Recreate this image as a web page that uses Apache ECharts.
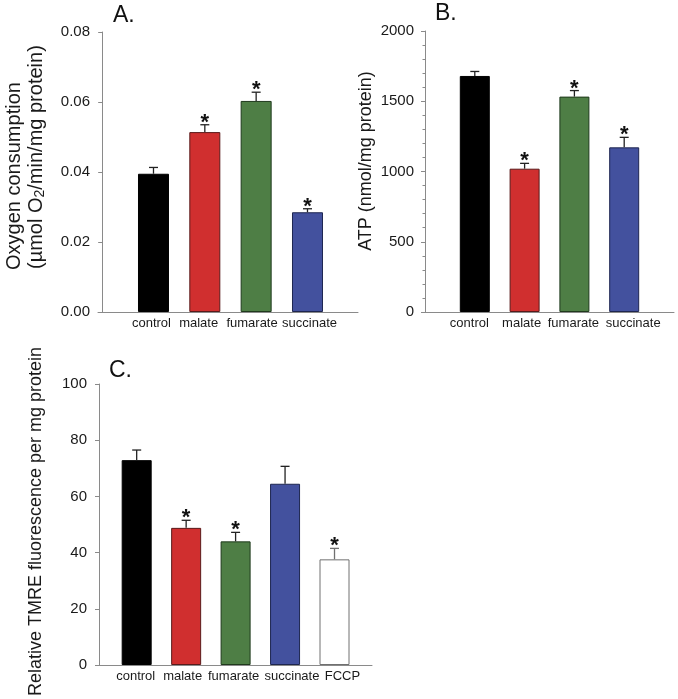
<!DOCTYPE html>
<html>
<head>
<meta charset="utf-8">
<script src="https://cdn.jsdelivr.net/npm/echarts@6/dist/echarts.min.js"></script>
<style>
html,body{margin:0;padding:0;background:#fff;}
#chart{width:678px;height:699px;}
</style>
</head>
<body>
<div id="chart"></div>
<script>
// ---- data ----
var categoriesAB = ['control', 'malate', 'fumarate', 'succinate'];
var categoriesC = ['control', 'malate', 'fumarate', 'succinate', 'FCCP'];

var oxygenMean = [0.0395, 0.0514, 0.0603, 0.0285];
var oxygenErr  = [0.0018, 0.0021, 0.0025, 0.0010];
var oxygenSig  = [0, 1, 1, 1];

var atpMean = [1680, 1020, 1533, 1172];
var atpErr  = [32, 38, 43, 71];
var atpSig  = [0, 1, 1, 1];

var tmreMean = [72.9, 48.8, 44.0, 64.5, 37.6];
var tmreErr  = [3.6, 2.7, 3.2, 6.2, 3.9];
var tmreSig  = [0, 1, 1, 0, 1];

var yTicksA = [0, 0.02, 0.04, 0.06, 0.08];
var yTicksB = [0, 500, 1000, 1500, 2000];
var yTicksC = [0, 20, 40, 60, 80, 100];

// ---- styles ----
var FONT = "'Liberation Sans', Arial, sans-serif";
var barFill = ['#000000', '#d02f2f', '#4e7e45', '#43519e', '#ffffff'];
var barEdge = ['#000000', '#5a1a1a', '#1f3a1c', '#1e2650', '#707070'];
var errColor = ['#222', '#222', '#222', '#222', '#707070'];
var axisGrey = '#8a8a8a';
var textCol = '#1a1a1a';
// small horizontal nudges of the category labels (in category units)
var nudgeA = [-0.04, -0.12, -0.08, 0.04];
var nudgeB = [-0.11, -0.06, -0.02, 0.18];
var nudgeC = [-0.02, -0.07, -0.04, 0.14, 0.16];

var chart = echarts.init(document.getElementById('chart'), null, {renderer: 'canvas'});

function barData(means) {
  return means.map(function (v, i) {
    return {value: [i + 1, v], itemStyle: {color: barFill[i], borderColor: barEdge[i], borderWidth: 1}};
  });
}
function errData(means, errs, sig) {
  return means.map(function (v, i) { return [i + 1, v, errs[i], sig[i], i]; });
}
function errRender(capHalf) {
  return function (params, api) {
    var x = api.value(0), v = api.value(1), e = api.value(2), s = api.value(3), idx = api.value(4);
    var base = api.coord([x, v]);
    var top = api.coord([x, v + e]);
    var col = errColor[idx];
    var children = [
      {type: 'line', shape: {x1: base[0], y1: base[1], x2: top[0], y2: top[1]}, style: {stroke: col, lineWidth: 1.3}},
      {type: 'line', shape: {x1: top[0] - capHalf, y1: top[1], x2: top[0] + capHalf, y2: top[1]}, style: {stroke: col, lineWidth: 1.3}}
    ];
    if (s) {
      children.push({type: 'text', style: {text: '*', x: top[0], y: top[1] - 2, align: 'center', verticalAlign: 'middle',
        font: 'bold 22px ' + FONT, fill: '#111'}});
    }
    return {type: 'group', children: children};
  };
}
function xAxisCfg(grid, min, max, cats, nudge) {
  return {
    type: 'value', gridIndex: grid, min: min, max: max,
    axisLine: {show: true, lineStyle: {color: axisGrey, width: 1}},
    axisTick: {show: false},
    splitLine: {show: false},
    axisLabel: {
      customValues: cats.map(function (c, i) { return i + 1 + nudge[i]; }),
      formatter: function (v) { return cats[Math.round(v) - 1] || ''; },
      showMinLabel: true, showMaxLabel: true, hideOverlap: false,
      fontSize: 13, color: textCol, fontFamily: FONT, margin: 5
    }
  };
}
function yAxisCfg(grid, ticks, name, gap, margin, fmt, minor, extra) {
  return {
    type: 'value', gridIndex: grid, min: ticks[0], max: ticks[ticks.length - 1],
    interval: ticks[1] - ticks[0],
    axisLine: {show: true, lineStyle: {color: axisGrey, width: 1}},
    axisTick: {show: true, length: 4, lineStyle: {color: axisGrey}},
    minorTick: {show: minor, splitNumber: 5, length: 2.5, lineStyle: {color: axisGrey}},
    splitLine: {show: false},
    axisLabel: {fontSize: 15, color: textCol, fontFamily: FONT, margin: margin, formatter: fmt},
    name: name, nameLocation: 'middle', nameGap: gap,
    nameTextStyle: Object.assign({fontSize: 18, color: textCol, fontFamily: FONT, lineHeight: 21}, extra || {})
  };
}

var option = {
  animation: false,
  backgroundColor: '#ffffff',
  textStyle: {fontFamily: FONT},
  grid: [
    {left: 98, top: 32, width: 260, height: 280, containLabel: false, outerBoundsMode: 'none'},
    {left: 425, top: 31, width: 249, height: 281, containLabel: false, outerBoundsMode: 'none'},
    {left: 99, top: 384, width: 273, height: 281, containLabel: false, outerBoundsMode: 'none'}
  ],
  xAxis: [
    xAxisCfg(0, -0.081, 4.984, categoriesAB, nudgeA),
    xAxisCfg(1, 0, 5, categoriesAB, nudgeB),
    xAxisCfg(2, 0.238, 5.758, categoriesC, nudgeC)
  ],
  yAxis: [
    yAxisCfg(0, yTicksA, '', 52, 8, function (v) { return v.toFixed(2); }, false),
    yAxisCfg(1, yTicksB, 'ATP (nmol/mg protein)', 43, 11, function (v) { return String(v); }, true,
      {padding: [0, 0, 0, 21]}),
    yAxisCfg(2, yTicksC, 'Relative TMRE fluorescence per mg protein', 52, 12, function (v) { return String(v); }, false,
      {padding: [0, 0, 0, 6]})
  ],
  graphic: [
    {type: 'text', left: 113, top: 4, style: {text: 'A.', font: '23px ' + FONT, fill: '#111'}},
    {type: 'text', left: 435, top: 2, style: {text: 'B.', font: '23px ' + FONT, fill: '#111'}},
    {type: 'text', left: 109, top: 359, style: {text: 'C.', font: '23px ' + FONT, fill: '#111'}},
    {type: 'text', x: 14, y: 270, rotation: Math.PI / 2,
      style: {text: 'Oxygen consumption', font: '20px ' + FONT, fill: textCol, align: 'left', verticalAlign: 'middle'}},
    {type: 'text', x: 36, y: 269, rotation: Math.PI / 2,
      style: {text: '(µmol O{sub|2}/min/mg protein)', font: '20px ' + FONT, fill: textCol, align: 'left', verticalAlign: 'middle',
        rich: {sub: {font: '14px ' + FONT, fill: textCol, padding: [9, 0, 0, 0]}}}}
  ],
  series: [
    {type: 'bar', xAxisIndex: 0, yAxisIndex: 0, barWidth: 31, data: barData(oxygenMean)},
    {type: 'custom', xAxisIndex: 0, yAxisIndex: 0, renderItem: errRender(4.5), data: errData(oxygenMean, oxygenErr, oxygenSig), z: 3},
    {type: 'bar', xAxisIndex: 1, yAxisIndex: 1, barWidth: 30, data: barData(atpMean)},
    {type: 'custom', xAxisIndex: 1, yAxisIndex: 1, renderItem: errRender(4.5), data: errData(atpMean, atpErr, atpSig), z: 3},
    {type: 'bar', xAxisIndex: 2, yAxisIndex: 2, barWidth: 30, data: barData(tmreMean)},
    {type: 'custom', xAxisIndex: 2, yAxisIndex: 2, renderItem: errRender(4.5), data: errData(tmreMean, tmreErr, tmreSig), z: 3}
  ]
};
chart.setOption(option);
</script>
</body>
</html>
